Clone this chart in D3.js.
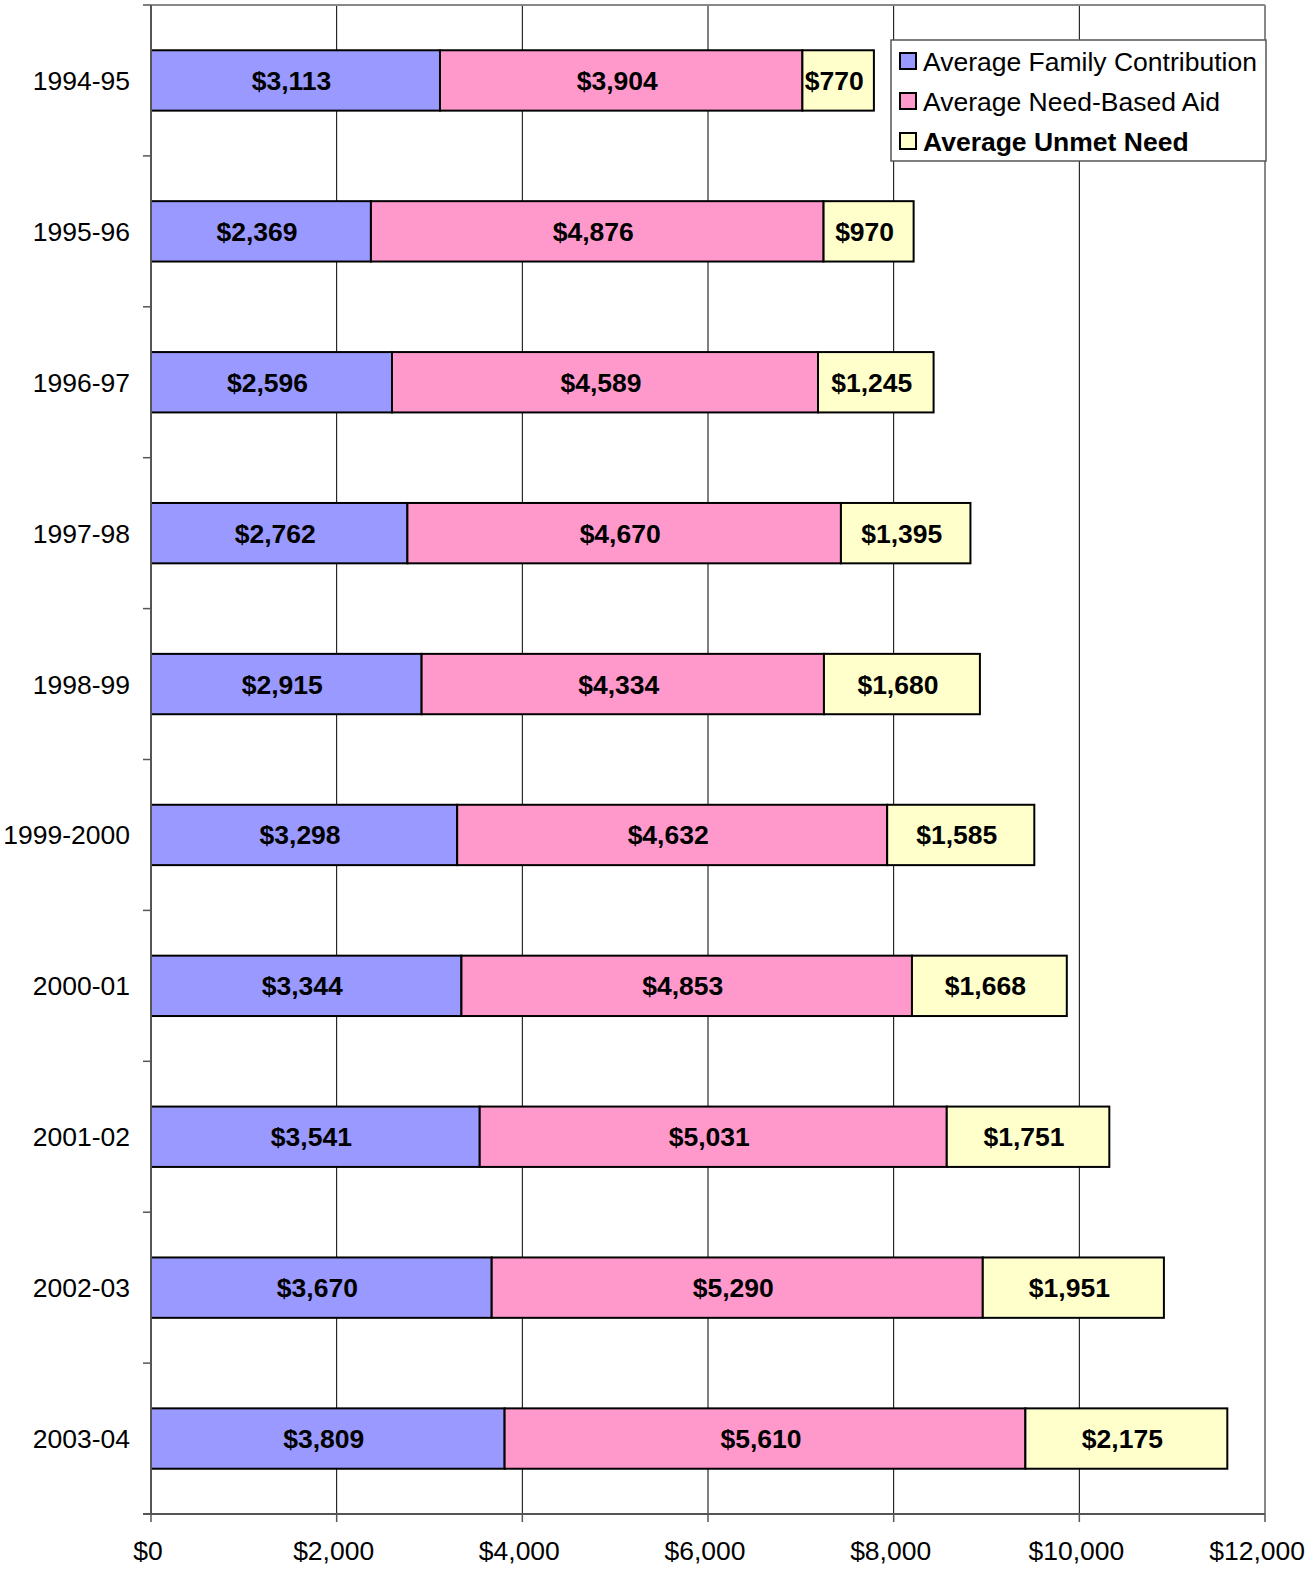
<!DOCTYPE html>
<html>
<head>
<meta charset="utf-8">
<script src="https://cdn.jsdelivr.net/npm/d3@7"></script>
<style>
  body { margin: 0; background: #fff; }
  svg { display: block; font-family: "Liberation Sans", Arial, sans-serif; }
</style>
</head>
<body>
<svg width="1307" height="1571"></svg>
<script>
const years = ["1994-95", "1995-96", "1996-97", "1997-98", "1998-99",
  "1999-2000", "2000-01", "2001-02", "2002-03", "2003-04"];
const familyContribution = [3113, 2369, 2596, 2762, 2915, 3298, 3344, 3541, 3670, 3809];
const needBasedAid = [3904, 4876, 4589, 4670, 4334, 4632, 4853, 5031, 5290, 5610];
const unmetNeed = [770, 970, 1245, 1395, 1680, 1585, 1668, 1751, 1951, 2175];
const seriesNames = ["Average Family Contribution", "Average Need-Based Aid", "Average Unmet Need"];
const seriesColors = ["#9999FF", "#FF99CC", "#FFFFCC"];
const xTicks = [0, 2000, 4000, 6000, 8000, 10000, 12000];

const svg = d3.select("svg");
const plotLeft = 151, plotRight = 1265, plotTop = 5, plotBottom = 1514;
const fs = 26.5;

const x = d3.scaleLinear().domain([0, 12000]).range([plotLeft, plotRight]);
const y = d3.scaleBand().domain(years).range([plotTop, plotBottom]).paddingInner(0.6).paddingOuter(0.3);

// stacked table
const rows = years.map((yr, i) => ({
  year: yr, fc: familyContribution[i], aid: needBasedAid[i], unmet: unmetNeed[i]
}));
const stack = d3.stack().keys(["fc", "aid", "unmet"])(rows);

// gridlines
svg.append("g")
  .selectAll("line")
  .data(xTicks.slice(1, -1))
  .join("line")
  .attr("x1", d => x(d)).attr("x2", d => x(d))
  .attr("y1", plotTop).attr("y2", plotBottom)
  .attr("stroke", "#000").attr("stroke-width", 1);

// plot border top/right
svg.append("line").attr("x1", plotLeft).attr("x2", plotRight).attr("y1", plotTop).attr("y2", plotTop)
  .attr("stroke", "#888").attr("stroke-width", 2);
svg.append("line").attr("x1", plotRight).attr("x2", plotRight).attr("y1", plotTop).attr("y2", plotBottom)
  .attr("stroke", "#888").attr("stroke-width", 2);

// bars
const fmt = d3.format("$,");
stack.forEach((s, k) => {
  const g = svg.append("g");
  g.selectAll("rect")
    .data(s)
    .join("rect")
    .attr("x", d => x(d[0]))
    .attr("y", d => y(d.data.year))
    .attr("width", d => x(d[1]) - x(d[0]))
    .attr("height", y.bandwidth())
    .attr("fill", seriesColors[k])
    .attr("stroke", "#000")
    .attr("stroke-width", 2);
  g.selectAll("text")
    .data(s)
    .join("text")
    .attr("x", d => (x(d[0]) + x(d[1])) / 2 - 4)
    .attr("y", d => y(d.data.year) + y.bandwidth() / 2)
    .attr("dy", "0.36em")
    .attr("text-anchor", "middle")
    .attr("font-size", fs)
    .attr("font-weight", "bold")
    .text(d => fmt(d[1] - d[0]));
});

// y axis
const yAxis = svg.append("g");
yAxis.append("line").attr("x1", plotLeft).attr("x2", plotLeft).attr("y1", plotTop).attr("y2", plotBottom)
  .attr("stroke", "#555").attr("stroke-width", 2);
yAxis.selectAll("line.tick")
  .data(d3.range(years.length + 1))
  .join("line")
  .attr("class", "tick")
  .attr("x1", plotLeft - 8).attr("x2", plotLeft)
  .attr("y1", i => plotTop + (plotBottom - plotTop) * i / years.length)
  .attr("y2", i => plotTop + (plotBottom - plotTop) * i / years.length)
  .attr("stroke", "#555").attr("stroke-width", 1.5);
yAxis.selectAll("text")
  .data(years)
  .join("text")
  .attr("x", 130)
  .attr("y", d => y(d) + y.bandwidth() / 2)
  .attr("dy", "0.36em")
  .attr("text-anchor", "end")
  .attr("font-size", fs)
  .text(d => d);

// x axis
const xAxis = svg.append("g");
xAxis.append("line").attr("x1", plotLeft - 8).attr("x2", plotRight).attr("y1", plotBottom).attr("y2", plotBottom)
  .attr("stroke", "#555").attr("stroke-width", 2);
xAxis.selectAll("line.tick")
  .data(xTicks)
  .join("line")
  .attr("class", "tick")
  .attr("x1", d => x(d)).attr("x2", d => x(d))
  .attr("y1", plotBottom).attr("y2", plotBottom + 8)
  .attr("stroke", "#555").attr("stroke-width", 1.5);
// last label is kept inside the page edge
xAxis.selectAll("text")
  .data(xTicks)
  .join("text")
  .attr("x", (d, i) => i === xTicks.length - 1 ? 1305 : x(d) - 3)
  .attr("y", 1560)
  .attr("text-anchor", (d, i) => i === xTicks.length - 1 ? "end" : "middle")
  .attr("font-size", fs)
  .text(d => fmt(d));

// legend
const legend = svg.append("g").attr("transform", "translate(891,40)");
legend.append("rect").attr("width", 375).attr("height", 121)
  .attr("fill", "#fff").attr("stroke", "#555").attr("stroke-width", 1.5);
seriesNames.forEach((name, i) => {
  const cy = 21 + i * 40;
  legend.append("rect").attr("x", 9).attr("y", cy - 8).attr("width", 16).attr("height", 16)
    .attr("fill", seriesColors[i]).attr("stroke", "#000").attr("stroke-width", 2);
  legend.append("text").attr("x", 32).attr("y", cy).attr("dy", "0.36em")
    .attr("font-size", fs)
    .attr("font-weight", i === 2 ? "bold" : "normal")
    .text(name);
});
</script>
</body>
</html>
